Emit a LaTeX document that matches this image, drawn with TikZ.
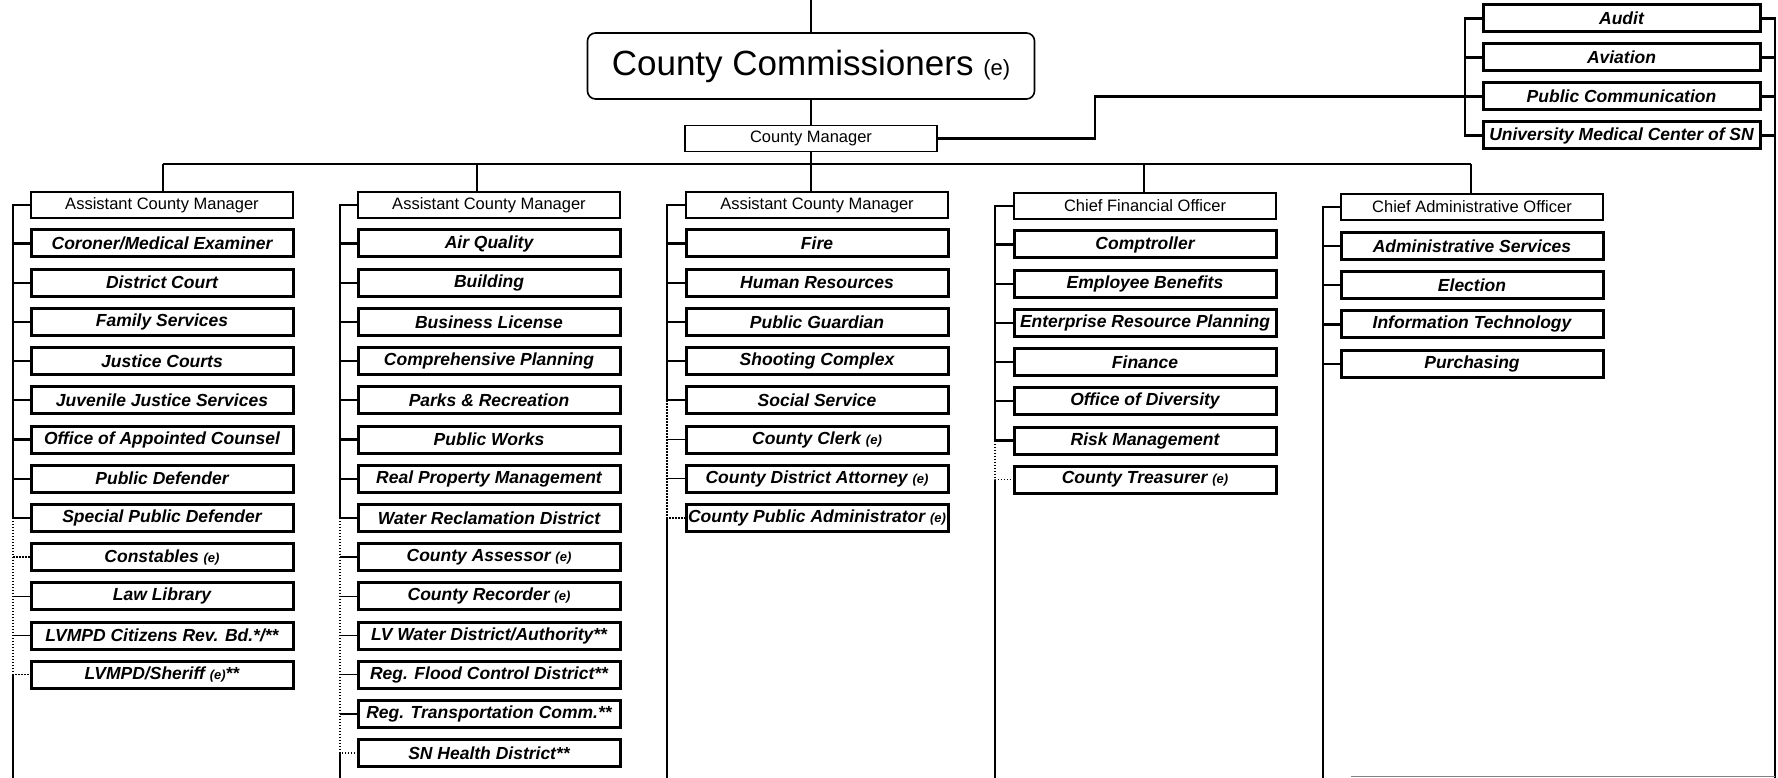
\documentclass[tikz,border=0pt]{standalone}
\usepackage{fontspec}
\setmainfont{Liberation Sans}
\usepackage{tikz}

\newcommand{\elect}{{\fontsize{13}{13}\selectfont(e)}}

\tikzset{
  post/.style={draw, line width=1.3pt, minimum width=262pt, minimum height=26pt,
    inner sep=0pt, font=\fontsize{16.5}{18}\selectfont},
  dept/.style={draw, line width=3pt, minimum width=262pt, minimum height=27pt,
    inner sep=0pt, font=\fontsize{17.5}{19}\selectfont\bfseries\itshape},
  link/.style={line width=2.2pt},
  thin link/.style={line width=1.4pt},
  elect link/.style={line width=1.4pt, dash pattern=on 1.5pt off 1.5pt},
}

\begin{document}
\begin{tikzpicture}[x=1pt,y=-1pt]
    \fill[white] (0,0) rectangle (1778,778);
    \useasboundingbox (0,0) rectangle (1778,778);

    % 辅助坐标
    \coordinate (top) at (811,0);
    \coordinate (bus) at (0,164);
    \coordinate (bot) at (0,778);
    \coordinate (bend) at (1095,96.5);
    \coordinate (edge) at (1351,776);
    \coordinate (drop1) at (163,164);
    \coordinate (drop2) at (477,164);
    \coordinate (drop3) at (811,164);
    \coordinate (drop4) at (1144,164);
    \coordinate (drop5) at (1471,164);
    \coordinate (lane1) at (13,0);
    \coordinate (lane2) at (340,0);
    \coordinate (lane3) at (667,0);
    \coordinate (lane4) at (995,0);
    \coordinate (lane5) at (1323,0);
    \coordinate (lanel) at (1465,0);
    \coordinate (laner) at (1775,0);

    % 县委员会与县经理
    \node[draw, rounded corners=8pt, line width=1.6pt, minimum width=447pt, minimum height=66pt,
      inner sep=0pt, font=\fontsize{35}{40}\selectfont] (cc) at (811,66)
      {County Commissioners {\fontsize{22}{24}\selectfont(e)}};
    \node[post, minimum width=252pt] (cm) at (811,138.5) {County Manager};

    % 右上角部门
    \node[dept, minimum width=277pt] (r1) at (1621.5,18.5) {Audit};
    \node[dept, minimum width=277pt] (r2) at (1621.5,57.5) {Aviation};
    \node[dept, minimum width=277pt] (r3) at (1621.5,96.5) {Public Communication};
    \node[dept, minimum width=277pt] (r4) at (1621.5,135.5) {University Medical Center of SN};

    % 各栏负责人
    \node[post] (h1) at (162,205) {Assistant County Manager};
    \node[post] (h2) at (489,205) {Assistant County Manager};
    \node[post] (h3) at (817,205) {Assistant County Manager};
    \node[post] (h4) at (1145,206) {Chief Financial Officer};
    \node[post] (h5) at (1472,207) {Chief Administrative Officer};

    % 第一栏
    \node[dept] (a1) at (162,243.5) {Coroner/Medical Examiner};
    \node[dept] (a2) at (162,282.7) {District Court};
    \node[dept] (a3) at (162,321.9) {Family Services};
    \node[dept] (a4) at (162,361.1) {Justice Courts};
    \node[dept] (a5) at (162,400.3) {Juvenile Justice Services};
    \node[dept] (a6) at (162,439.5) {Office of Appointed Counsel};
    \node[dept] (a7) at (162,478.7) {Public Defender};
    \node[dept] (a8) at (162,517.9) {Special Public Defender};
    \node[dept] (a9) at (162,557.1) {Constables \elect};
    \node[dept] (a10) at (162,596.3) {Law Library};
    \node[dept] (a11) at (162,635.5) {LVMPD Citizens Rev. Bd.*/**};
    \node[dept] (a12) at (162,674.7) {LVMPD/Sheriff \elect**};

    % 第二栏
    \node[dept] (b1) at (489,243.5) {Air Quality};
    \node[dept] (b2) at (489,282.7) {Building};
    \node[dept] (b3) at (489,321.9) {Business License};
    \node[dept] (b4) at (489,361.1) {Comprehensive Planning};
    \node[dept] (b5) at (489,400.3) {Parks \& Recreation};
    \node[dept] (b6) at (489,439.5) {Public Works};
    \node[dept] (b7) at (489,478.7) {Real Property Management};
    \node[dept] (b8) at (489,517.9) {Water Reclamation District};
    \node[dept] (b9) at (489,557.1) {County Assessor \elect};
    \node[dept] (b10) at (489,596.3) {County Recorder \elect};
    \node[dept] (b11) at (489,635.5) {LV Water District/Authority**};
    \node[dept] (b12) at (489,674.7) {Reg. Flood Control District**};
    \node[dept] (b13) at (489,713.9) {Reg. Transportation Comm.**};
    \node[dept] (b14) at (489,753.1) {SN Health District**};

    % 第三栏
    \node[dept] (c1) at (817,243.5) {Fire};
    \node[dept] (c2) at (817,282.7) {Human Resources};
    \node[dept] (c3) at (817,321.9) {Public Guardian};
    \node[dept] (c4) at (817,361.1) {Shooting Complex};
    \node[dept] (c5) at (817,400.3) {Social Service};
    \node[dept] (c6) at (817,439.5) {County Clerk \elect};
    \node[dept] (c7) at (817,478.7) {County District Attorney \elect};
    \node[dept] (c8) at (817,517.9) {County Public Administrator \elect};

    % 第四栏
    \node[dept] (d1) at (1145,244.5) {Comptroller};
    \node[dept] (d2) at (1145,283.7) {Employee Benefits};
    \node[dept] (d3) at (1145,322.9) {Enterprise Resource Planning};
    \node[dept] (d4) at (1145,362.1) {Finance};
    \node[dept] (d5) at (1145,401.3) {Office of Diversity};
    \node[dept] (d6) at (1145,440.5) {Risk Management};
    \node[dept] (d7) at (1145,479.7) {County Treasurer \elect};

    % 第五栏
    \node[dept] (e1) at (1472,246) {Administrative Services};
    \node[dept] (e2) at (1472,285.2) {Election};
    \node[dept] (e3) at (1472,324.4) {Information Technology};
    \node[dept] (e4) at (1472,363.6) {Purchasing};

    % 主干连线
    \draw[link] (top) -- (cc.north);
    \draw[link] (cc.south) -- (cm.north);
    \draw[link] (cm.south) -- (cm.south |- bus);
    \draw[link] (drop1) -- (drop5);
    \draw[link] (drop1) -- (drop1 |- h1.north);
    \draw[link] (drop2) -- (drop2 |- h2.north);
    \draw[link] (drop3) -- (drop3 |- h3.north);
    \draw[link] (drop4) -- (drop4 |- h4.north);
    \draw[link] (drop5) -- (drop5 |- h5.north);

    % 县经理到右上角
    \draw[link] (cm.east) -- (cm.east -| bend) -- (bend) -- (r3.west -| lanel);
    \draw[link] (r1.west) -- (r1.west -| lanel) -- (r4.west -| lanel) -- (r4.west);
    \draw[link] (r2.west -| lanel) -- (r2.west);
    \draw[link] (r3.west -| lanel) -- (r3.west);
    \draw[link] (r1.east) -- (r1.east -| laner) -- (laner |- bot);
    \draw[link] (r2.east) -- (r2.east -| laner);
    \draw[link] (r3.east) -- (r3.east -| laner);
    \draw[link] (r4.east) -- (r4.east -| laner);
    \draw[gray, line width=1pt] (edge) -- (laner |- edge);

    % 第一栏连线
    \draw[link] (h1.west) -- (h1.west -| lane1) -- (a8.west -| lane1) -- (a8.west);
    \foreach \n in {1,...,7} \draw[link] (a\n.west -| lane1) -- (a\n.west);
    \draw[elect link] (a8.west -| lane1) -- (a12.west -| lane1) -- (a12.west);
    \draw[elect link] (a9.west -| lane1) -- (a9.west);
    \draw[thin link] (a10.west -| lane1) -- (a10.west);
    \draw[thin link] (a11.west -| lane1) -- (a11.west);
    \draw[link] (a12.west -| lane1) -- (lane1 |- bot);

    % 第二栏连线
    \draw[link] (h2.west) -- (h2.west -| lane2) -- (b8.west -| lane2) -- (b8.west);
    \foreach \n in {1,...,7} \draw[link] (b\n.west -| lane2) -- (b\n.west);
    \draw[elect link] (b8.west -| lane2) -- (b14.west -| lane2) -- (b14.west);
    \foreach \n in {9,...,13} \draw[thin link] (b\n.west -| lane2) -- (b\n.west);
    \draw[link] (b14.west -| lane2) -- (lane2 |- bot);

    % 第三栏连线
    \draw[link] (h3.west) -- (h3.west -| lane3) -- (c5.west -| lane3) -- (c5.west);
    \foreach \n in {1,...,4} \draw[link] (c\n.west -| lane3) -- (c\n.west);
    \draw[elect link] (c5.west -| lane3) -- (c8.west -| lane3) -- (c8.west);
    \foreach \n in {6,7} \draw[thin link] (c\n.west -| lane3) -- (c\n.west);
    \draw[link] (c8.west -| lane3) -- (lane3 |- bot);

    % 第四栏连线
    \draw[link] (h4.west) -- (h4.west -| lane4) -- (d6.west -| lane4) -- (d6.west);
    \foreach \n in {1,...,5} \draw[link] (d\n.west -| lane4) -- (d\n.west);
    \draw[elect link] (d6.west -| lane4) -- (d7.west -| lane4) -- (d7.west);
    \draw[link] (d7.west -| lane4) -- (lane4 |- bot);

    % 第五栏连线
    \draw[link] (h5.west) -- (h5.west -| lane5) -- (lane5 |- bot);
    \foreach \n in {1,...,4} \draw[link] (e\n.west -| lane5) -- (e\n.west);
\end{tikzpicture}
\end{document}
